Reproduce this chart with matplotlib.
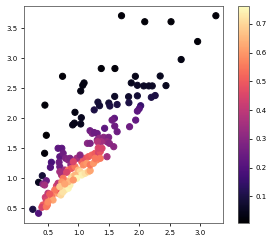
import matplotlib
matplotlib.use("Agg")
import matplotlib.pyplot as plt
import numpy as np

x_vals = [1.706, 2.087, 2.518, 3.253, 2.954, 2.684, 0.739, 0.45, 1.092, 1.07,
          1.037, 1.374, 1.598, 1.933, 2.34, 1.866, 1.966, 2.07, 2.153, 2.21,
          2.435, 1.319, 1.346, 1.258, 1.498, 1.515, 1.634, 1.594, 1.822, 1.966,
          2.195, 2.258, 1.827, 2.02, 1.996, 1.966, 0.943, 1.047, 1.59, 1.938,
          1.838, 0.905, 0.934, 1.037, 0.473, 0.445, 0.407, 0.346, 0.251, 0.346,
          1.595, 1.634, 1.429, 1.19, 1.225, 1.258, 1.308, 1.551, 1.147, 1.192,
          1.308, 1.341, 1.412, 1.457, 1.495, 1.468, 1.507, 1.374, 1.313,
          0.666, 0.727, 0.556, 0.54, 0.694, 0.682, 0.694, 0.749, 0.789, 0.832,
          0.86, 0.876, 0.777, 0.722, 0.694, 0.417, 0.473, 0.445, 0.50, 0.457,
          0.473, 0.417, 0.40, 0.473, 0.49, 0.556, 0.566, 0.583, 0.666, 0.694,
          0.711, 0.639, 0.666, 0.777, 0.832, 0.86, 0.744, 0.888, 0.86, 0.832,
          0.832, 0.888, 0.943, 0.998, 1.026, 1.054, 1.109, 1.163, 1.192, 1.054,
          1.109, 1.163, 1.22, 1.274, 1.329, 1.357, 1.08, 1.137, 1.192, 1.246,
          1.30, 1.357, 1.324, 0.971, 1.026, 0.915, 0.805, 0.749, 0.727, 0.611,
          0.694, 0.777, 0.943, 0.971, 0.915, 0.528, 0.50, 1.578, 1.468, 1.274,
          1.386]
y_vals = [3.71, 3.61, 3.61, 3.71, 3.28, 2.98, 2.70, 2.22, 2.59, 2.55,
          2.455, 2.83, 2.83, 2.70, 2.705, 2.59, 2.55, 2.54, 2.54, 2.54,
          2.545, 2.27, 2.21, 2.14, 2.255, 2.205, 2.23, 2.365, 2.36, 2.375,
          2.35, 2.38, 2.26, 2.21, 2.16, 2.12, 2.10, 2.01, 2.0, 1.97,
          1.86, 1.89, 1.92, 1.905, 1.717, 1.417, 1.043, 0.933, 0.483, 0.417,
          1.87, 1.777, 1.833, 1.793, 1.75, 1.763, 1.747, 1.97, 1.583, 1.583,
          1.638, 1.667, 1.683, 1.667, 1.683, 1.61, 1.583, 1.61, 1.61,
          1.50, 1.50, 1.267, 1.183, 1.36, 1.267, 1.193, 1.417, 1.333, 1.305,
          1.333, 1.222, 1.138, 1.055, 1.11, 0.905, 0.96, 0.888, 0.75, 0.683,
          0.638, 0.555, 0.517, 0.527, 0.555, 0.667, 0.705, 0.638, 0.75, 0.777,
          0.722, 0.872, 0.917, 0.805, 0.833, 0.888, 0.772, 1.027, 0.972, 0.943,
          1.138, 1.167, 1.193, 1.138, 1.11, 1.055, 1.083, 1.11, 1.127, 1.277,
          1.333, 1.36, 1.388, 1.417, 1.427, 1.443, 1.222, 1.25, 1.222, 1.25,
          1.305, 1.333, 1.505, 1.333, 1.388, 1.277, 1.10, 1.0, 0.938, 0.805,
          0.86, 0.905, 1.055, 1.0, 0.972, 0.738, 0.605, 1.527, 1.36, 1.333,
          1.50]
c_vals = [0.02, 0.02, 0.02, 0.02, 0.02, 0.03, 0.02, 0.02, 0.03, 0.03,
          0.03, 0.02, 0.02, 0.04, 0.05, 0.05, 0.06, 0.06, 0.06, 0.06,
          0.05, 0.08, 0.08, 0.10, 0.08, 0.10, 0.10, 0.06, 0.07, 0.08,
          0.10, 0.10, 0.10, 0.15, 0.20, 0.22, 0.03, 0.05, 0.22, 0.23,
          0.25, 0.04, 0.04, 0.05, 0.01, 0.02, 0.08, 0.05, 0.10, 0.20,
          0.25, 0.25, 0.22, 0.25, 0.28, 0.25, 0.25, 0.25, 0.30, 0.28,
          0.30, 0.32, 0.30, 0.30, 0.28, 0.32, 0.30, 0.35, 0.38,
          0.22, 0.22, 0.18, 0.20, 0.22, 0.25, 0.25, 0.25, 0.28, 0.30,
          0.28, 0.33, 0.35, 0.38, 0.35, 0.30, 0.25, 0.35, 0.40, 0.42,
          0.45, 0.50, 0.45, 0.55, 0.55, 0.60, 0.55, 0.62, 0.60, 0.50,
          0.70, 0.45, 0.40, 0.73, 0.75, 0.74, 0.72, 0.70, 0.72, 0.65,
          0.55, 0.50, 0.55, 0.65, 0.70, 0.74, 0.72, 0.68, 0.62, 0.50,
          0.48, 0.50, 0.52, 0.50, 0.45, 0.48, 0.58, 0.60, 0.55, 0.60,
          0.58, 0.55, 0.45, 0.35, 0.30, 0.45, 0.45, 0.55, 0.60, 0.55,
          0.68, 0.62, 0.65, 0.75, 0.60, 0.50, 0.58, 0.30, 0.35, 0.55,
          0.45]

cbar_ticks = [0.1, 0.2, 0.3, 0.4, 0.5, 0.6, 0.7]

W, H = 274, 243
fig = plt.figure(figsize=(W / 72, H / 72), dpi=72)
ax = fig.add_axes([24 / W, (H - 223.3) / H, 199 / W, 217.6 / H])
cax = fig.add_axes([238 / W, (H - 223.3) / H, 11 / W, 217.6 / H])

sc = ax.scatter(x_vals, y_vals, c=c_vals, cmap="magma", vmin=0.006, vmax=0.763, s=38)
ax.set_xlim(0.107, 3.37)
ax.set_ylim(0.25, 3.877)
ax.set_xticks([0.5, 1.0, 1.5, 2.0, 2.5, 3.0])
ax.set_yticks([0.5, 1.0, 1.5, 2.0, 2.5, 3.0, 3.5])
ax.tick_params(labelsize=7, length=3, width=0.8)
for sp in ax.spines.values():
    sp.set_color("#555555")
    sp.set_linewidth(0.8)

cb = fig.colorbar(sc, cax=cax, ticks=cbar_ticks)
cb.ax.tick_params(labelsize=7, length=3, width=0.8)
cb.outline.set_linewidth(0.8)
cb.outline.set_edgecolor("#555555")

fig.savefig("out.png", dpi=72)
